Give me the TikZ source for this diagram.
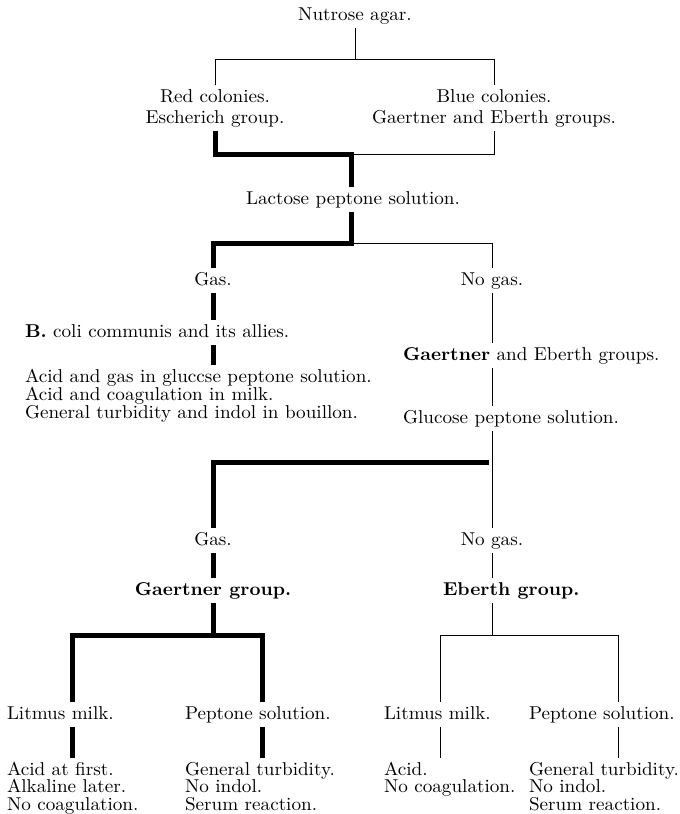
\documentclass[tikz,border=0pt]{standalone}
\usepackage{fontspec}
\setmainfont{lmroman10-regular.otf}[BoldFont=lmroman10-bold.otf, FakeStretch=1.03]
\begin{document}
\begin{tikzpicture}[x=1pt,y=-1pt,
  lbl/.style={inner sep=0pt, outer xsep=0pt, outer ysep=3.5pt, text height=13.5pt, text depth=4.5pt, font=\fontsize{18.6}{20}\selectfont},
  cl/.style={lbl, anchor=base},
  ll/.style={lbl, anchor=base west},
  thinln/.style={line width=0.8pt},
  thickln/.style={line width=5pt},
]
\useasboundingbox[fill=white] (0,0) rectangle (680,814);

% nodes
\node[cl] (nutrose) at (355,20) {Nutrose agar.};
\node[cl] (red1) at (215,102) {Red colonies.};
\node[cl] (red2) at (215,123) {Escherich group.};
\node[cl] (blue1) at (494,102) {Blue colonies.};
\node[cl] (blue2) at (494,123) {Gaertner and Eberth groups.};
\node[cl] (lact) at (353,204) {Lactose peptone solution.};
\node[cl] (gas1) at (213,285) {Gas.};
\node[cl] (nogas1) at (492,285) {No gas.};
\node[ll] (bcoli) at (25,337) {\textbf{B.} coli communis and its allies.};
\node[ll] (ac1) at (25,382) {Acid and gas in gluccse peptone solution.};
\node[ll] (ac2) at (25,400) {Acid and coagulation in milk.};
\node[ll] (ac3) at (25,418) {General turbidity and indol in bouillon.};
\node[ll] (ge) at (403,360) {\textbf{Gaertner} and Eberth groups.};
\node[ll] (glu) at (403,423) {Glucose peptone solution.};
\node[cl] (gas2) at (213,545) {Gas.};
\node[cl] (nogas2) at (492,545) {No gas.};
\node[cl] (gg) at (213,595) {\textbf{Gaertner group.}};
\node[ll] (eg) at (443,595) {\textbf{Eberth group.}};
\node[ll] (lm1) at (7,719) {Litmus milk.};
\node[ll] (ps1) at (185,719) {Peptone solution.};
\node[ll] (lm2) at (384,719) {Litmus milk.};
\node[ll] (ps2) at (529,719) {Peptone solution.};
\node[ll] (r1a) at (7,775) {Acid at first.};
\node[ll] (r1b) at (7,792) {Alkaline later.};
\node[ll] (r1c) at (7,810) {No coagulation.};
\node[ll] (r2a) at (185,775) {General turbidity.};
\node[ll] (r2b) at (185,792) {No indol.};
\node[ll] (r2c) at (185,810) {Serum reaction.};
\node[ll] (r3a) at (384,775) {Acid.};
\node[ll] (r3b) at (384,792) {No coagulation.};
\node[ll] (r4a) at (529,775) {General turbidity.};
\node[ll] (r4b) at (529,792) {No indol.};
\node[ll] (r4c) at (529,810) {Serum reaction.};

% junctions
\coordinate (ja) at (355,59);
\coordinate (jb) at (351,154);
\coordinate (jc) at (351,243);
\coordinate (jd) at (492,462);
\coordinate (je) at (213,635);
\coordinate (jf) at (492,635);
\coordinate (c1) at (72,635);
\coordinate (c2) at (262,635);
\coordinate (c3) at (440,635);
\coordinate (c4) at (618,635);

% thin connectors
\draw[thinln] (nutrose.south) -- (ja);
\draw[thinln] (red1.north) -- (red1.north |- ja) -- (blue1.north |- ja) -- (blue1.north);
\draw[thinln] (blue2.south) -- (blue2.south |- jb) -- (jb);
\draw[thinln] (jc) -- (jc -| nogas1) -- (nogas1.north);
\draw[thinln] (nogas1.south) -- (nogas1.south |- ge.north);
\draw[thinln] (nogas1.south |- ge.south) -- (nogas1.south |- glu.north);
\draw[thinln] (nogas1.south |- glu.south) -- (nogas2.north);
\draw[thinln] (nogas2.south) -- (nogas2.south |- eg.north);
\draw[thinln] (nogas2.south |- eg.south) -- (jf);
\draw[thinln] (c3 |- lm2.north) -- (c3) -- (c4) -- (c4 |- ps2.north);
\draw[thinln] (c3 |- lm2.south) -- (c3 |- r3a.north);
\draw[thinln] (c4 |- ps2.south) -- (c4 |- r4a.north);

% thick connectors
\draw[thickln] (red2.south) -- (red2.south |- jb) -- (jb) -- (jb |- lact.north);
\draw[thickln] (jb |- lact.south) -- (jc) -- (jc -| gas1) -- (gas1.north);
\draw[thickln] (gas1.south) -- (gas1.south |- bcoli.north);
\draw[thickln] (gas1.south |- bcoli.south) -- (gas1.south |- ac1.north);
\draw[thickln] ([xshift=-3pt]jd) -- (jd -| gas2) -- (gas2.north);
\draw[thickln] (gas2.south) -- (gg.north);
\draw[thickln] (gg.south) -- (je);
\draw[thickln] (c1 |- lm1.north) -- (c1) -- (c2) -- (c2 |- ps1.north);
\draw[thickln] (c1 |- lm1.south) -- (c1 |- r1a.north);
\draw[thickln] (c2 |- ps1.south) -- (c2 |- r2a.north);
\end{tikzpicture}
\end{document}
